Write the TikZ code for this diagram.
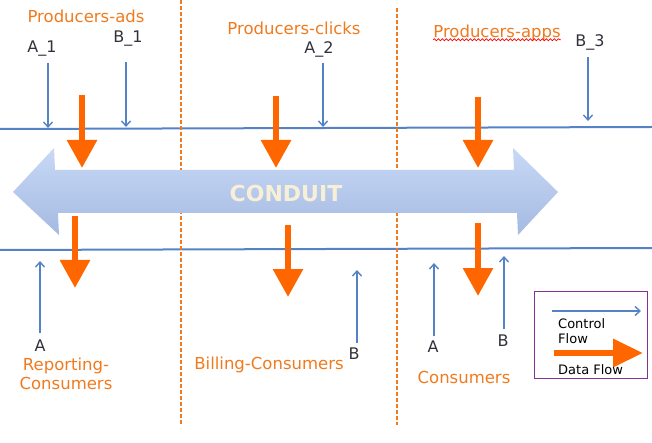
\documentclass[tikz,border=0pt]{standalone}
\usepackage{fontspec}
\setmainfont{DejaVu Sans}
\usetikzlibrary{arrows.meta,decorations.pathmorphing}
\definecolor{ctlblue}{RGB}{84,130,196}
\definecolor{dataorange}{RGB}{255,102,0}
\definecolor{lblorange}{RGB}{240,122,30}
\definecolor{lblgray}{RGB}{50,50,60}
\definecolor{legendpurple}{RGB}{128,50,150}
\definecolor{conduittop}{RGB}{200,217,246}
\definecolor{conduitbot}{RGB}{165,186,226}
\definecolor{conduittext}{RGB}{247,240,214}
\tikzset{
  busline/.style={draw=ctlblue, line width=2pt},
  divider/.style={draw=lblorange, line width=1.6pt, dash pattern=on 4pt off 2pt},
  ctlflow/.style={draw=ctlblue, line width=1.4pt, -{Straight Barb[length=5pt,width=9pt,line width=1.4pt]}},
  dataflow/.style={draw=dataorange, fill=dataorange, line width=6pt, -{Triangle[length=28pt,width=29pt]}},
  grouplabel/.style={text=lblorange, font=\fontsize{16.5}{19}\selectfont, inner sep=0pt, align=center},
  portlabel/.style={text=lblgray, font=\fontsize{16}{18}\selectfont, inner sep=0pt},
  legendtext/.style={text=black, font=\fontsize{13}{15}\selectfont, inner sep=0pt, anchor=west, align=left},
}
\begin{document}
\begin{tikzpicture}[x=1pt,y=-1pt]
\useasboundingbox (0,0) rectangle (652,443);
% bus lines
\coordinate (tl) at (0,129); \coordinate (tr) at (652,127);
\coordinate (bl) at (0,250); \coordinate (br) at (652,248);
\draw[busline] (tl) -- (tr);
\draw[busline] (bl) -- (br);
% dividers
\coordinate (d1t) at (181,0); \coordinate (d1b) at (181,425);
\coordinate (d2t) at (397,8); \coordinate (d2b) at (397,425);
\draw[divider] (d1t) -- (d1b);
\draw[divider] (d2t) -- (d2b);
% conduit double arrow
\shade[top color=conduittop, bottom color=conduitbot]
  (13,192) -- (54,148) -- (55,170) -- (514,170) -- (513,148) -- (558,192)
  -- (518,235) -- (517,213) -- (58,213) -- (59,235) -- cycle;
\node[text=conduittext, font=\fontsize{22}{24}\selectfont\bfseries, inner sep=0pt] (conduit) at (286,193) {CONDUIT};
% data flow arrows (top)
\coordinate (p1s) at (82,95);  \coordinate (p1e) at (82,168);
\coordinate (p2s) at (276,96); \coordinate (p2e) at (276,168);
\coordinate (p3s) at (478,97); \coordinate (p3e) at (478,168);
\draw[dataflow] (p1s) -- (p1e);
\draw[dataflow] (p2s) -- (p2e);
\draw[dataflow] (p3s) -- (p3e);
% data flow arrows (bottom)
\coordinate (c1s) at (75,216);  \coordinate (c1e) at (75,288);
\coordinate (c2s) at (288,225); \coordinate (c2e) at (288,297);
\coordinate (c3s) at (478,223); \coordinate (c3e) at (478,296);
\draw[dataflow] (c1s) -- (c1e);
\draw[dataflow] (c2s) -- (c2e);
\draw[dataflow] (c3s) -- (c3e);
% control flow arrows (top)
\coordinate (a1s) at (48,63);  \coordinate (a1e) at (48,128);
\coordinate (b1s) at (126,62); \coordinate (b1e) at (126,127);
\coordinate (a2s) at (323,63); \coordinate (a2e) at (323,127);
\coordinate (b3s) at (588,57); \coordinate (b3e) at (588,121);
\draw[ctlflow] (a1s) -- (a1e);
\draw[ctlflow] (b1s) -- (b1e);
\draw[ctlflow] (a2s) -- (a2e);
\draw[ctlflow] (b3s) -- (b3e);
% control flow arrows (bottom)
\coordinate (rAs) at (40,333);  \coordinate (rAe) at (40,261);
\coordinate (mBs) at (357,343); \coordinate (mBe) at (357,270);
\coordinate (cAs) at (434,336); \coordinate (cAe) at (434,263);
\coordinate (cBs) at (504,329); \coordinate (cBe) at (504,256);
\draw[ctlflow] (rAs) -- (rAe);
\draw[ctlflow] (mBs) -- (mBe);
\draw[ctlflow] (cAs) -- (cAe);
\draw[ctlflow] (cBs) -- (cBe);
% port labels
\node[portlabel] (lA1) at (42,49) {A\_1};
\node[portlabel] (lB1) at (128,39) {B\_1};
\node[portlabel] (lA2) at (319,49) {A\_2};
\node[portlabel] (lB3) at (590,42) {B\_3};
\node[portlabel] (lrA) at (40,346) {A};
\node[portlabel] (lmB) at (354,354) {B};
\node[portlabel] (lcA) at (433,347) {A};
\node[portlabel] (lcB) at (503,341) {B};
% group labels
\node[grouplabel] (gads) at (86,16) {Producers-ads};
\node[grouplabel] (gclicks) at (294,28) {Producers-clicks};
\node[grouplabel] (gapps) at (497,33) {Producers-apps};
\draw[red, line width=0.7pt, decorate, decoration={snake, amplitude=1pt, segment length=4pt}]
  ([yshift=1.5pt]gapps.south west) -- ([yshift=1.5pt]gapps.south east);
\node[grouplabel] (grep) at (66,374) {Reporting-\\Consumers};
\node[grouplabel] (gbill) at (269,365) {Billing-Consumers};
\node[grouplabel] (gcons) at (464,377) {Consumers};
% legend
\node[draw=legendpurple, line width=0.8pt, minimum width=113pt, minimum height=87pt, inner sep=0pt] (legend) at (590.5,334.5) {};
\coordinate (lcs) at (552,311); \coordinate (lce) at (641,311);
\draw[ctlflow] (lcs) -- (lce);
\node[legendtext] (lctl) at (558,331) {Control\\Flow};
\coordinate (lds) at (554,353); \coordinate (lde) at (643,353);
\draw[dataflow, line width=6.5pt, -{Triangle[length=30pt,width=27pt]}] (lds) -- (lde);
\node[legendtext] (ldata) at (558,370) {Data Flow};
\end{tikzpicture}
\end{document}
